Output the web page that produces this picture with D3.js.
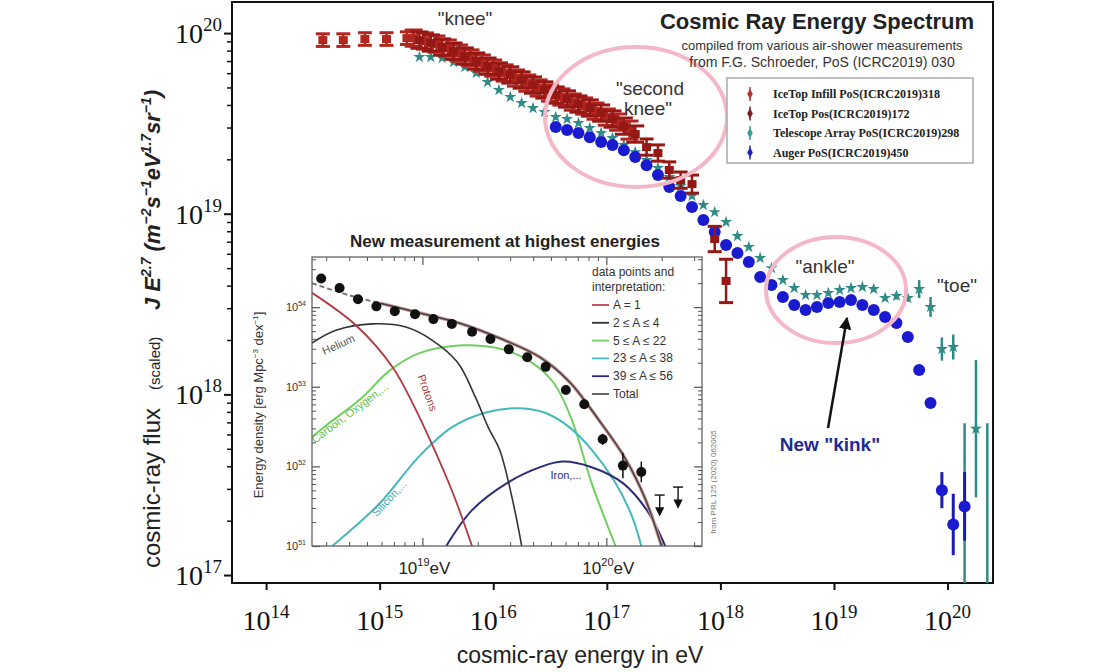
<!DOCTYPE html>
<html>
<head>
<meta charset="utf-8">
<script src="https://cdn.jsdelivr.net/npm/d3@7"></script>
<style>
  body { margin: 0; background: #fff; }
  text { font-family: Arial, "Liberation Sans", sans-serif; }
  .serif { font-family: "Liberation Serif", "Times New Roman", serif; }
</style>
</head>
<body>
<svg id="chart" width="1120" height="672"></svg>
<script>
// all values are log10: energy in eV, flux J*E^2.7 (scaled)
const infillE = [14.50, 14.68, 14.87, 15.06, 15.24, 15.30, 15.40, 15.50, 15.60, 15.70, 15.80, 15.90, 16.00,
  16.10, 16.20, 16.30, 16.40, 16.50, 16.60, 16.70, 16.80, 16.90, 17.00, 17.10, 17.20];
const infillJ = [19.961, 19.961, 19.967, 19.967, 19.972, 19.972, 19.956, 19.939, 19.917, 19.889, 19.862, 19.834, 19.806,
  19.779, 19.751, 19.723, 19.696, 19.668, 19.646, 19.618, 19.596, 19.568, 19.535, 19.507, 19.463];
const infillErr = [0.035, 0.035, 0.035, 0.035, 0.035, 0.045, 0.045, 0.045, 0.045, 0.045, 0.045, 0.045, 0.045,
  0.045, 0.045, 0.045, 0.045, 0.045, 0.045, 0.045, 0.045, 0.045, 0.045, 0.045, 0.05];

const icetopE = [15.35, 15.45, 15.55, 15.65, 15.75, 15.85, 15.95, 16.05, 16.15, 16.25, 16.35, 16.45, 16.55, 16.65,
  16.75, 16.85, 16.95, 17.05, 17.15, 17.25, 17.35, 17.45, 17.55, 17.65, 17.75, 17.95, 18.05];
const icetopJ = [19.961, 19.945, 19.923, 19.900, 19.873, 19.845, 19.817, 19.790, 19.768, 19.740, 19.712, 19.685, 19.657, 19.635,
  19.607, 19.585, 19.557, 19.524, 19.485, 19.441, 19.369, 19.336, 19.242, 19.186, 19.164, 18.860, 18.628];
const icetopErr = [0.045, 0.045, 0.045, 0.045, 0.045, 0.045, 0.045, 0.045, 0.045, 0.045, 0.045, 0.045, 0.045, 0.045,
  0.045, 0.045, 0.045, 0.045, 0.045, 0.045, 0.045, 0.045, 0.045, 0.045, 0.05, 0.07, 0.12];

const taE = [15.35, 15.45, 15.55, 15.65, 15.75, 15.85, 15.95, 16.05, 16.15, 16.25, 16.35, 16.45, 16.55, 16.65, 16.75,
  16.85, 16.95, 17.05, 17.15, 17.25, 17.35, 17.45, 17.55, 17.65, 17.75, 17.85, 17.95, 18.05, 18.15, 18.25, 18.35,
  18.45, 18.55, 18.65, 18.75, 18.85, 18.95, 19.05, 19.15, 19.25, 19.35, 19.45, 19.55, 19.65, 19.75, 19.85, 19.95,
  20.05, 20.15, 20.25, 20.35];
const taJ = [19.867, 19.867, 19.862, 19.840, 19.812, 19.779, 19.729, 19.685, 19.646, 19.613, 19.585, 19.563, 19.535,
  19.524, 19.502, 19.474, 19.447, 19.419, 19.380, 19.341, 19.297, 19.253, 19.203, 19.153, 19.098, 19.048, 19.009,
  18.954, 18.877, 18.816, 18.755, 18.699, 18.633, 18.589, 18.550, 18.550, 18.561, 18.578, 18.589, 18.594, 18.583,
  18.533, 18.545, 18.533, 18.583, 18.484, 18.251, 18.262, 16.90, 17.81, 16.90];
const taErr = [0.008, 0.008, 0.008, 0.008, 0.008, 0.008, 0.008, 0.008, 0.008, 0.008, 0.008, 0.008, 0.008, 0.008, 0.008,
  0.008, 0.008, 0.008, 0.008, 0.008, 0.008, 0.008, 0.008, 0.008, 0.008, 0.008, 0.01, 0.01, 0.01, 0.01, 0.01,
  0.01, 0.01, 0.01, 0.01, 0.01, 0.01, 0.01, 0.012, 0.012, 0.015, 0.015, 0.02, 0.02, 0.05, 0.055, 0.064,
  0.069, 0.94, 0.38, 0.94];

const augerE = [16.55, 16.65, 16.75, 16.85, 16.95, 17.05, 17.15, 17.25, 17.35, 17.45, 17.55, 17.65, 17.75, 17.85,
  17.95, 18.05, 18.15, 18.25, 18.35, 18.45, 18.55, 18.65, 18.75, 18.85, 18.95, 19.05, 19.15, 19.25, 19.35, 19.45,
  19.55, 19.65, 19.75, 19.85, 19.95, 20.05, 20.15];
const augerJ = [19.480, 19.463, 19.447, 19.424, 19.397, 19.380, 19.352, 19.314, 19.269, 19.214, 19.148, 19.098, 19.037,
  18.965, 18.899, 18.827, 18.782, 18.733, 18.650, 18.605, 18.539, 18.495, 18.467, 18.484, 18.506, 18.511, 18.522,
  18.495, 18.467, 18.428, 18.395, 18.318, 18.135, 17.952, 17.47, 17.28, 17.38];
const augerErr = [0.01, 0.01, 0.01, 0.01, 0.01, 0.01, 0.01, 0.01, 0.01, 0.01, 0.01, 0.01, 0.01, 0.01,
  0.01, 0.01, 0.01, 0.01, 0.01, 0.01, 0.01, 0.01, 0.01, 0.01, 0.01, 0.01, 0.01, 0.01, 0.01, 0.01,
  0.012, 0.012, 0.015, 0.025, 0.10, 0.17, 0.19];

const xTickExp = [14, 15, 16, 17, 18, 19, 20];
const yTickExp = [17, 18, 19, 20];

// inset: energy density per component, [log10 E, log10 density]
const insetE = [18.45, 18.55, 18.65, 18.75, 18.85, 18.96, 19.06, 19.16, 19.27, 19.37, 19.47, 19.57, 19.67,
  19.78, 19.88, 19.98, 20.09, 20.19];
const insetD = [54.36, 54.24, 54.10, 54.01, 53.95, 53.91, 53.85, 53.79, 53.69, 53.60, 53.47, 53.37, 53.25,
  52.96, 52.78, 52.34, 52.01, 51.93];
const insetErr = [0, 0, 0, 0, 0, 0, 0, 0, 0, 0, 0, 0, 0, 0, 0.02, 0.07, 0.16, 0.13];
const limitE = [20.29, 20.39];
const limitD = [51.64, 51.74];

const protonCurve = [[18.40, 54.18], [18.64, 53.77], [18.84, 53.24], [18.95, 52.78], [19.05, 52.29], [19.16, 51.70], [19.27, 51.00]];
const heliumCurve = [[18.40, 53.55], [18.53, 53.71], [18.73, 53.79], [18.91, 53.75], [19.05, 53.59], [19.19, 53.31],
  [19.29, 52.86], [19.36, 52.48], [19.42, 52.21], [19.49, 51.58], [19.54, 51.00]];
const cnoCurve = [[18.40, 52.37], [18.48, 52.52], [18.67, 52.86], [18.82, 53.20], [18.98, 53.42], [19.22, 53.52],
  [19.40, 53.49], [19.57, 53.34], [19.71, 53.06], [19.81, 52.60], [19.92, 51.79], [20.05, 51.00]];
const siCurve = [[18.51, 51.00], [18.77, 51.54], [18.98, 52.12], [19.16, 52.49], [19.35, 52.68], [19.53, 52.73],
  [19.67, 52.67], [19.80, 52.49], [19.92, 52.21], [20.05, 51.79], [20.14, 51.37], [20.19, 51.00]];
const feCurve = [[19.13, 51.00], [19.27, 51.45], [19.46, 51.79], [19.64, 51.99], [19.76, 52.06], [19.92, 51.99],
  [20.09, 51.79], [20.22, 51.45], [20.32, 51.00]];
const totalCurve = [[18.40, 54.30], [18.60, 54.15], [18.77, 54.05], [18.98, 53.93], [19.20, 53.80], [19.42, 53.61],
  [19.64, 53.37], [19.80, 53.06], [19.96, 52.58], [20.10, 52.11], [20.21, 51.60], [20.30, 51.00]];

const insetXTickExp = [19, 20];
const insetYTickExp = [51, 52, 53, 54];

const mainLegend = [
  { label: 'IceTop Infill PoS(ICRC2019)318', color: '#b03535' },
  { label: 'IceTop Pos(ICRC2019)172', color: '#7d1d22' },
  { label: 'Telescope Array PoS(ICRC2019)298', color: '#3a9a96' },
  { label: 'Auger PoS(ICRC2019)450', color: '#2020c0' }
];
const insetLegend = [
  { label: 'A = 1', color: '#c0404a' },
  { label: '2 \u2264 A \u2264 4', color: '#333' },
  { label: '5 \u2264 A \u2264 22', color: '#6fd060' },
  { label: '23 \u2264 A \u2264 38', color: '#45b8bb' },
  { label: '39 \u2264 A \u2264 56', color: '#2c2c78' },
  { label: 'Total', color: '#555' }
];

const P = v => Math.pow(10, v);
const svg = d3.select('#chart');

const x = d3.scaleLog().domain([P(13.70), P(20.40)]).range([232, 993]);
const y = d3.scaleLog().domain([P(16.956), P(20.172)]).range([583, 2]);

svg.append('clipPath').attr('id', 'main-clip')
  .append('rect').attr('x', 232).attr('y', 2).attr('width', 761).attr('height', 581);

drawAxes();
drawSeries();
drawInset();
drawAnnotations();
drawLegend();

function supText(sel, base, exp, size, supSize, supDy) {
  sel.append('tspan').attr('font-size', size).text(base);
  sel.append('tspan').attr('font-size', supSize).attr('dy', supDy).text(exp);
  return sel;
}

function logMinors(lo, hi) {
  let vals = [];
  for (let n = Math.floor(Math.log10(lo)); n <= Math.ceil(Math.log10(hi)); n++) {
    for (let k = 2; k <= 9; k++) {
      let v = k * P(n);
      if (v > lo && v < hi) vals.push(v);
    }
  }
  return vals;
}

function drawAxes() {
  svg.append('rect')
    .attr('x', 232).attr('y', 2).attr('width', 761).attr('height', 581)
    .attr('fill', 'none').attr('stroke', '#111').attr('stroke-width', 2);

  let gx = svg.append('g').attr('transform', 'translate(0,583)')
    .call(d3.axisBottom(x).tickValues(xTickExp.map(P)).tickSize(7).tickFormat(''));
  gx.select('.domain').remove();
  gx.selectAll('line').attr('stroke', '#111').attr('stroke-width', 2);

  let gyMinor = svg.append('g').attr('transform', 'translate(232,0)')
    .call(d3.axisLeft(y).tickValues(logMinors(...y.domain())).tickSize(5).tickFormat(''));
  gyMinor.select('.domain').remove();
  gyMinor.selectAll('line').attr('stroke', '#111').attr('stroke-width', 1.5);

  let gy = svg.append('g').attr('transform', 'translate(232,0)')
    .call(d3.axisLeft(y).tickValues(yTickExp.map(P)).tickSize(8).tickFormat(''));
  gy.select('.domain').remove();
  gy.selectAll('line').attr('stroke', '#111').attr('stroke-width', 2);

  xTickExp.forEach(e => {
    let t = svg.append('text').attr('class', 'serif')
      .attr('x', x(P(e))).attr('y', 630).attr('text-anchor', 'middle').attr('fill', '#111');
    supText(t, '10', e, 28, 19, -12);
  });
  yTickExp.forEach(e => {
    let t = svg.append('text').attr('class', 'serif')
      .attr('x', 222).attr('y', y(P(e)) + 10).attr('text-anchor', 'end').attr('fill', '#111');
    supText(t, '10', e, 28, 19, -12);
  });

  svg.append('text')
    .attr('x', 580).attr('y', 663).attr('text-anchor', 'middle')
    .attr('font-size', 23).attr('fill', '#222')
    .text('cosmic-ray energy in eV');

  let yl = svg.append('g').attr('transform', 'translate(160,0) rotate(-90)');
  yl.append('text').attr('x', -568).attr('y', 0)
    .attr('font-size', 24).attr('fill', '#222').text('cosmic-ray flux');
  yl.append('text').attr('x', -390).attr('y', 0)
    .attr('font-size', 15).attr('fill', '#222').text('(scaled)');
  let jt = yl.append('text').attr('x', -310).attr('y', 0)
    .attr('font-size', 22).attr('font-weight', 'bold').attr('font-style', 'italic').attr('fill', '#222');
  jt.append('tspan').text('J E');
  jt.append('tspan').attr('font-size', 14).attr('dy', -9).text('2.7');
  jt.append('tspan').attr('dy', 9).text(' (m');
  jt.append('tspan').attr('font-size', 14).attr('dy', -9).text('\u22122');
  jt.append('tspan').attr('dy', 9).text('s');
  jt.append('tspan').attr('font-size', 14).attr('dy', -9).text('\u22121');
  jt.append('tspan').attr('dy', 9).text('eV');
  jt.append('tspan').attr('font-size', 14).attr('dy', -9).text('1.7');
  jt.append('tspan').attr('dy', 9).text('sr');
  jt.append('tspan').attr('font-size', 14).attr('dy', -9).text('\u22121');
  jt.append('tspan').attr('dy', 9).text(')');
}

function zip(es, js, errs) {
  return es.map((e, i) => ({ e, j: js[i], err: errs[i] }));
}

function drawSeries() {
  let g = svg.append('g').attr('clip-path', 'url(#main-clip)');

  // Telescope Array
  let ta = zip(taE, taJ, taErr);
  g.append('g').selectAll('line').data(ta).join('line')
    .attr('x1', d => x(P(d.e))).attr('x2', d => x(P(d.e)))
    .attr('y1', d => y(P(d.j + d.err))).attr('y2', d => y(P(d.j - d.err)))
    .attr('stroke', '#2e8b86').attr('stroke-width', 2.5);
  g.append('g').selectAll('path').data(ta).join('path')
    .attr('transform', d => `translate(${x(P(d.e))},${y(P(d.j))})`)
    .attr('d', d3.symbol().type(d3.symbolStar).size(46))
    .attr('fill', '#2e8b86');

  // Auger
  let auger = zip(augerE, augerJ, augerErr);
  g.append('g').selectAll('line').data(auger).join('line')
    .attr('x1', d => x(P(d.e))).attr('x2', d => x(P(d.e)))
    .attr('y1', d => y(P(d.j + d.err))).attr('y2', d => y(P(d.j - d.err)))
    .attr('stroke', '#1a1ab8').attr('stroke-width', 3);
  g.append('g').selectAll('circle').data(auger).join('circle')
    .attr('cx', d => x(P(d.e))).attr('cy', d => y(P(d.j))).attr('r', 6)
    .attr('fill', '#1a1ad0');

  drawIceTop(g, zip(infillE, infillJ, infillErr), '#b3261e');
  drawIceTop(g, zip(icetopE, icetopJ, icetopErr), '#951814');
}

function drawIceTop(g, data, color) {
  let pts = g.append('g').selectAll('g').data(data).join('g')
    .attr('transform', d => `translate(${x(P(d.e))},${y(P(d.j))})`);
  let up = d => Math.max(5, y(P(d.j)) - y(P(d.j + d.err)));
  let dn = d => Math.max(5, y(P(d.j - d.err)) - y(P(d.j)));
  // the crowded part of the band gets wider caps so neighbours merge
  let half = d => d.e >= 15.28 && d.e <= 17.3 ? 9 : 7;
  pts.append('line').attr('y1', d => -up(d)).attr('y2', d => dn(d))
    .attr('stroke', color).attr('stroke-width', 2.5);
  pts.append('line').attr('x1', d => -half(d)).attr('x2', d => half(d)).attr('y1', d => -up(d)).attr('y2', d => -up(d))
    .attr('stroke', color).attr('stroke-width', 3);
  pts.append('line').attr('x1', d => -half(d)).attr('x2', d => half(d)).attr('y1', d => dn(d)).attr('y2', d => dn(d))
    .attr('stroke', color).attr('stroke-width', 3);
  pts.append('rect').attr('x', -4.5).attr('y', -4).attr('width', 9).attr('height', 8)
    .attr('fill', color);
}

function drawInset() {
  const ix = d3.scaleLog().domain([P(18.40), P(20.52)]).range([312, 702]);
  const iy = d3.scaleLog().domain([P(51), P(54.63)]).range([546, 257]);
  const [x0, x1] = ix.range();
  const [y0, y1] = iy.range();
  let g = svg.append('g');

  g.append('rect').attr('x', x0).attr('y', y1).attr('width', x1 - x0).attr('height', y0 - y1)
    .attr('fill', '#fff');
  g.append('clipPath').attr('id', 'inset-clip')
    .append('rect').attr('x', x0).attr('y', y1).attr('width', x1 - x0).attr('height', y0 - y1);

  g.append('text').attr('x', 505).attr('y', 247).attr('text-anchor', 'middle')
    .attr('font-size', 17).attr('font-weight', 'bold').attr('fill', '#222')
    .text('New measurement at highest energies');

  // inward ticks on all four sides
  let xMinor = logMinors(...ix.domain());
  let yMinor = logMinors(...iy.domain());
  let tickSets = [
    [d3.axisBottom(ix), `translate(0,${y0})`, xMinor, insetXTickExp],
    [d3.axisTop(ix), `translate(0,${y1})`, xMinor, insetXTickExp],
    [d3.axisLeft(iy), `translate(${x0},0)`, yMinor, insetYTickExp],
    [d3.axisRight(iy), `translate(${x1},0)`, yMinor, insetYTickExp]
  ];
  tickSets.forEach(([axis, tr, minors, majors]) => {
    let gm = g.append('g').attr('transform', tr)
      .call(axis.tickValues(minors).tickSize(-4).tickFormat(''));
    gm.select('.domain').remove();
    gm.selectAll('line').attr('stroke', '#555');
    let gM = g.append('g').attr('transform', tr)
      .call(axis.tickValues(majors.map(P)).tickSize(-8).tickFormat(''));
    gM.select('.domain').remove();
    gM.selectAll('line').attr('stroke', '#555').attr('stroke-width', 1.2);
  });

  insetXTickExp.forEach(e => {
    let t = g.append('text').attr('x', ix(P(e)) + 2).attr('y', 574).attr('text-anchor', 'middle')
      .attr('fill', '#222');
    t.append('tspan').attr('font-size', 17).text('10');
    t.append('tspan').attr('font-size', 11).attr('dy', -8).text(e);
    t.append('tspan').attr('font-size', 17).attr('dy', 8).text('eV');
  });
  insetYTickExp.forEach(e => {
    let t = g.append('text').attr('x', 306).attr('y', iy(P(e)) + 4).attr('text-anchor', 'end')
      .attr('fill', '#333');
    supText(t, '10', e, 11, 7, -5);
  });

  let lab = g.append('text').attr('transform', 'translate(263,405) rotate(-90)')
    .attr('text-anchor', 'middle').attr('font-size', 13).attr('fill', '#333');
  lab.append('tspan').text('Energy density [erg Mpc');
  lab.append('tspan').attr('font-size', 8).attr('dy', -5).text('\u22123');
  lab.append('tspan').attr('dy', 5).text(' dex');
  lab.append('tspan').attr('font-size', 8).attr('dy', -5).text('\u22121');
  lab.append('tspan').attr('dy', 5).text(']');

  g.append('text').attr('transform', 'translate(716,482) rotate(-90)')
    .attr('text-anchor', 'middle').attr('font-size', 8).attr('fill', '#777')
    .text('from PRL 125 (2020) 062005');

  let line = d3.line().x(d => ix(P(d[0]))).y(d => iy(P(d[1]))).curve(d3.curveCatmullRom.alpha(0.5));
  let curves = g.append('g').attr('clip-path', 'url(#inset-clip)').attr('fill', 'none');
  curves.append('path').attr('d', line(cnoCurve)).attr('stroke', '#6fd060').attr('stroke-width', 2);
  curves.append('path').attr('d', line(siCurve)).attr('stroke', '#45b8bb').attr('stroke-width', 2);
  curves.append('path').attr('d', line(feCurve)).attr('stroke', '#2c2c78').attr('stroke-width', 2);
  curves.append('path').attr('d', line(heliumCurve)).attr('stroke', '#333').attr('stroke-width', 1.6);
  curves.append('path').attr('d', line(protonCurve)).attr('stroke', '#b03a40').attr('stroke-width', 1.8);
  curves.append('path').attr('d', line(totalCurve.filter(d => d[0] <= 18.77)))
    .attr('stroke', '#777').attr('stroke-width', 2).attr('stroke-dasharray', '5,3');
  curves.append('path').attr('d', line(totalCurve.filter(d => d[0] >= 18.77)))
    .attr('stroke', '#c79a9a').attr('stroke-width', 3.5);
  curves.append('path').attr('d', line(totalCurve.filter(d => d[0] >= 18.77)))
    .attr('stroke', '#4a4040').attr('stroke-width', 1.5);

  // component labels
  let labels = [
    { t: 'Helium', x: 340, y: 348, r: -24, c: '#555' },
    { t: 'Carbon, Oxygen,...', x: 352, y: 416, r: -37, c: '#5cbf4c' },
    { t: 'Protons', x: 424, y: 394, r: 70, c: '#b03a40' },
    { t: 'Silicon,...', x: 392, y: 501, r: -47, c: '#3aaab0' },
    { t: 'Iron,...', x: 566, y: 479, r: 0, c: '#2c2c78' }
  ];
  g.append('g').selectAll('text').data(labels).join('text')
    .attr('transform', d => `translate(${d.x},${d.y}) rotate(${d.r})`)
    .attr('text-anchor', 'middle').attr('font-size', 11).attr('fill', d => d.c)
    .text(d => d.t);

  // data points
  let dots = insetE.map((e, i) => ({ e, d: insetD[i], err: insetErr[i] }));
  g.append('g').selectAll('line').data(dots.filter(d => d.err > 0)).join('line')
    .attr('x1', d => ix(P(d.e))).attr('x2', d => ix(P(d.e)))
    .attr('y1', d => iy(P(d.d + d.err))).attr('y2', d => iy(P(d.d - d.err)))
    .attr('stroke', '#111').attr('stroke-width', 1.5);
  g.append('g').selectAll('circle').data(dots).join('circle')
    .attr('cx', d => ix(P(d.e))).attr('cy', d => iy(P(d.d))).attr('r', 5)
    .attr('fill', '#111');

  let lims = g.append('g').selectAll('g').data(limitE.map((e, i) => ({ e, d: limitD[i] }))).join('g')
    .attr('transform', d => `translate(${ix(P(d.e))},${iy(P(d.d))})`)
    .attr('stroke', '#111').attr('stroke-width', 1.4);
  lims.append('line').attr('x1', -5).attr('x2', 5);
  lims.append('line').attr('y1', 0).attr('y2', 15);
  lims.append('path').attr('d', 'M-3.5,13 L3.5,13 L0,20 Z').attr('fill', '#111');

  // inset legend
  g.append('text').attr('x', 592).attr('y', 276).attr('font-size', 12).attr('fill', '#333')
    .text('data points and');
  g.append('text').attr('x', 592).attr('y', 291).attr('font-size', 12).attr('fill', '#333')
    .text('interpretation:');
  let rows = g.append('g').selectAll('g').data(insetLegend).join('g')
    .attr('transform', (d, i) => `translate(592,${305 + i * 17.8})`);
  rows.append('line').attr('x1', 0).attr('x2', 17)
    .attr('stroke', d => d.color).attr('stroke-width', 1.8);
  rows.append('text').attr('x', 21).attr('y', 4).attr('font-size', 12).attr('fill', '#333')
    .text(d => d.label);

  g.append('rect').attr('x', x0).attr('y', y1).attr('width', x1 - x0).attr('height', y0 - y1)
    .attr('fill', 'none').attr('stroke', '#555').attr('stroke-width', 1.2);
}

function drawAnnotations() {
  let pink = '#f4b7c8';
  svg.append('ellipse').attr('cx', 636).attr('cy', 117).attr('rx', 91).attr('ry', 70)
    .attr('fill', 'none').attr('stroke', pink).attr('stroke-width', 4);
  svg.append('ellipse').attr('cx', 836).attr('cy', 290).attr('rx', 70).attr('ry', 53)
    .attr('fill', 'none').attr('stroke', pink).attr('stroke-width', 4);

  let notes = [
    { t: '"knee"', x: 465, y: 25 },
    { t: '"second', x: 650, y: 95 },
    { t: 'knee"', x: 648, y: 115 },
    { t: '"ankle"', x: 825, y: 273 },
    { t: '"toe"', x: 957, y: 292 }
  ];
  svg.append('g').selectAll('text').data(notes).join('text')
    .attr('x', d => d.x).attr('y', d => d.y).attr('text-anchor', 'middle')
    .attr('font-size', 19).attr('fill', '#333').text(d => d.t);

  svg.append('text').attr('x', 830).attr('y', 451).attr('text-anchor', 'middle')
    .attr('font-size', 19).attr('font-weight', 'bold').attr('fill', '#1f2a99')
    .text('New "kink"');

  svg.append('defs').append('marker').attr('id', 'arrow')
    .attr('viewBox', '0 0 10 10').attr('refX', 9).attr('refY', 5)
    .attr('markerWidth', 5).attr('markerHeight', 5).attr('orient', 'auto')
    .append('path').attr('d', 'M0,0 L10,5 L0,10 Z').attr('fill', '#111');
  svg.append('line').attr('x1', 828).attr('y1', 428).attr('x2', 847).attr('y2', 318)
    .attr('stroke', '#111').attr('stroke-width', 2.5).attr('marker-end', 'url(#arrow)');
}

function drawLegend() {
  svg.append('text').attr('x', 817).attr('y', 29).attr('text-anchor', 'middle')
    .attr('font-size', 22).attr('font-weight', 'bold').attr('fill', '#222')
    .text('Cosmic Ray Energy Spectrum');
  svg.append('text').attr('x', 822).attr('y', 50).attr('text-anchor', 'middle')
    .attr('font-size', 13).attr('fill', '#333')
    .text('compiled from various air-shower measurements');
  svg.append('text').attr('x', 822).attr('y', 67).attr('text-anchor', 'middle')
    .attr('font-size', 14).attr('fill', '#333')
    .text('from F.G. Schroeder, PoS (ICRC2019) 030');

  svg.append('rect').attr('x', 727).attr('y', 78).attr('width', 246).attr('height', 85)
    .attr('fill', '#fff').attr('stroke', '#aaa').attr('stroke-width', 1.5);
  let rows = svg.append('g').selectAll('g').data(mainLegend).join('g')
    .attr('transform', (d, i) => `translate(750,${94 + i * 19.5})`);
  rows.append('line').attr('y1', -7).attr('y2', 7).attr('stroke', d => d.color).attr('stroke-width', 1.5);
  rows.append('path').attr('d', d3.symbol().type(d3.symbolDiamond).size(28)).attr('fill', d => d.color);
  rows.append('text').attr('class', 'serif').attr('x', 23).attr('y', 4)
    .attr('font-size', 12).attr('font-weight', 'bold').attr('fill', '#222')
    .text(d => d.label);
}
</script>
</body>
</html>
